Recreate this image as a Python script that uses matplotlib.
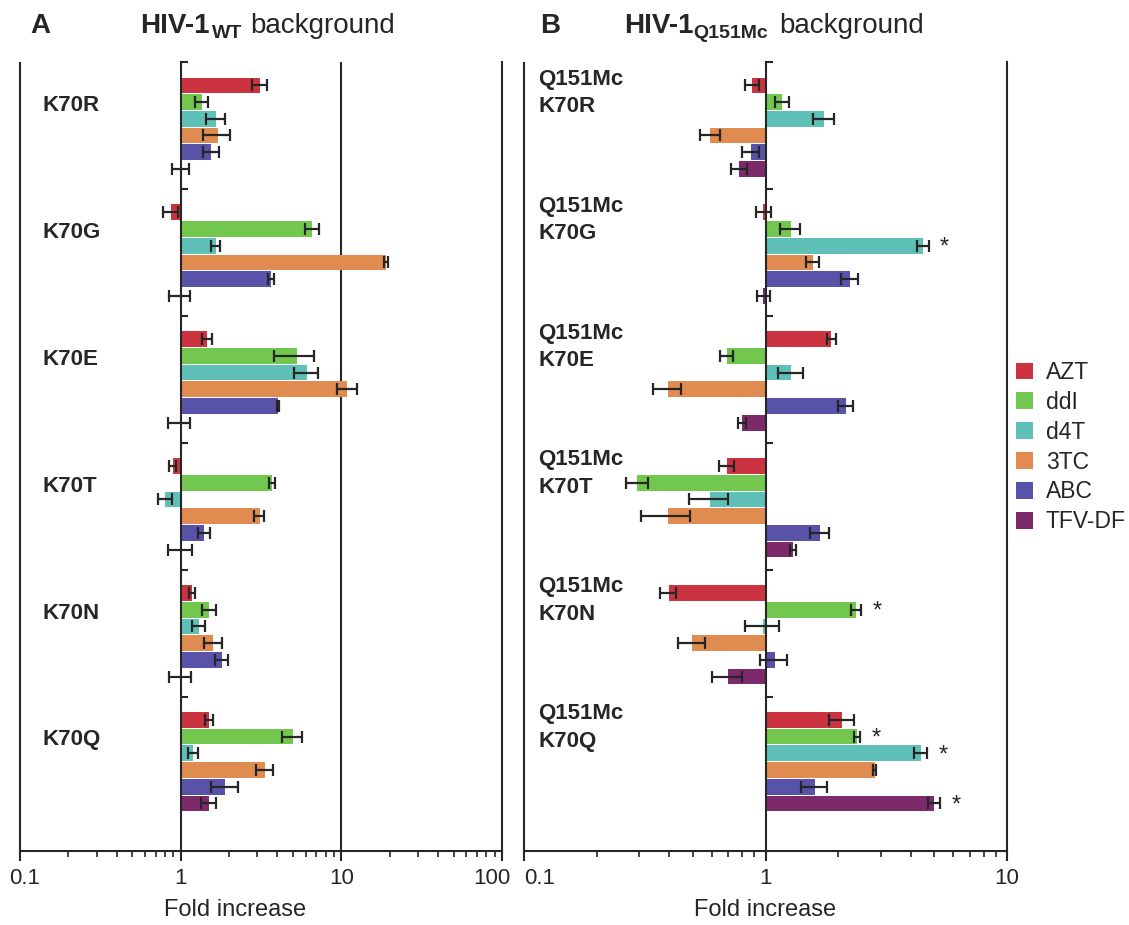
import numpy as np
import matplotlib
matplotlib.use("Agg")
import matplotlib.pyplot as plt
from matplotlib.patches import Patch
from matplotlib.ticker import FixedLocator, NullFormatter

plt.rcParams['font.family'] = ['Liberation Sans', 'DejaVu Sans']

# ---------------- data ----------------
drugs = ["AZT", "ddI", "d4T", "3TC", "ABC", "TFV-DF"]
drug_colors = ["#CC3340", "#72C84E", "#5EC0B6", "#E08C50", "#5852A8", "#7C2A6C"]

labels_a = ["K70R", "K70G", "K70E", "K70T", "K70N", "K70Q"]
labels_b = ["Q151Mc\nK70R", "Q151Mc\nK70G", "Q151Mc\nK70E",
            "Q151Mc\nK70T", "Q151Mc\nK70N", "Q151Mc\nK70Q"]

ticks_a = [0.1, 1, 10, 100]
ticklabels_a = ["0.1", "1", "10", "100"]
ticks_b = [0.1, 1, 10]
ticklabels_b = ["0.1", "1", "10"]

# Panel A: HIV-1 WT background (fold increase, order = drugs)
a_K70R = [3.10, 1.35, 1.66, 1.71, 1.55, 1.00]
a_K70G = [0.87, 6.60, 1.65, 19.0, 3.65, 0.99]
a_K70E = [1.46, 5.30, 6.10, 10.9, 4.05, 0.99]
a_K70T = [0.89, 3.70, 0.80, 3.10, 1.40, 1.00]
a_K70N = [1.18, 1.50, 1.30, 1.60, 1.80, 1.00]
a_K70Q = [1.50, 5.00, 1.20, 3.35, 1.90, 1.50]

a_K70R_err = [0.33, 0.12, 0.22, 0.33, 0.17, 0.12]
a_K70G_err = [0.09, 0.65, 0.10, 0.60, 0.15, 0.15]
a_K70E_err = [0.10, 1.50, 1.05, 1.55, 0.07, 0.16]
a_K70T_err = [0.04, 0.15, 0.08, 0.22, 0.12, 0.17]
a_K70N_err = [0.05, 0.15, 0.12, 0.20, 0.17, 0.16]
a_K70Q_err = [0.08, 0.70, 0.09, 0.42, 0.36, 0.17]

# Panel B: HIV-1 Q151Mc background
b_K70R = [0.88, 1.17, 1.75, 0.59, 0.87, 0.78]
b_K70G = [0.98, 1.27, 4.50, 1.57, 2.24, 0.98]
b_K70E = [1.87, 0.69, 1.28, 0.395, 2.15, 0.80]
b_K70T = [0.69, 0.295, 0.59, 0.395, 1.68, 1.30]
b_K70N = [0.397, 2.38, 0.98, 0.497, 1.09, 0.70]
b_K70Q = [2.08, 2.40, 4.40, 2.83, 1.60, 5.00]

b_K70R_err = [0.06, 0.08, 0.18, 0.055, 0.07, 0.06]
b_K70G_err = [0.07, 0.12, 0.25, 0.10, 0.18, 0.06]
b_K70E_err = [0.08, 0.045, 0.15, 0.053, 0.16, 0.03]
b_K70T_err = [0.05, 0.03, 0.11, 0.09, 0.15, 0.04]
b_K70N_err = [0.03, 0.11, 0.16, 0.063, 0.14, 0.10]
b_K70Q_err = [0.25, 0.07, 0.28, 0.03, 0.20, 0.30]

# significance stars in panel B: (group index, drug index)
b_stars = [(1, 2), (4, 1), (5, 1), (5, 2), (5, 5)]

values_a = [a_K70R, a_K70G, a_K70E, a_K70T, a_K70N, a_K70Q]
errors_a = [a_K70R_err, a_K70G_err, a_K70E_err, a_K70T_err, a_K70N_err, a_K70Q_err]
values_b = [b_K70R, b_K70G, b_K70E, b_K70T, b_K70N, b_K70Q]
errors_b = [b_K70R_err, b_K70G_err, b_K70E_err, b_K70T_err, b_K70N_err, b_K70Q_err]

# ---------------- layout ----------------
W, H = 1129, 925
fig = plt.figure(figsize=(W / 100, H / 100), dpi=100)
INK = "#262626"
LW = 1.5
GROUP = 7.6
YMAX = 47.25


def panel(rect, values, errors, labels, ticks, ticklabels, label_x, two_line,
          label_shift, stars=(), ref10=False, xlabel_x=0.5):
    ax = fig.add_axes(rect)
    ax.set_xscale('log')
    ax.set_xlim(ticks[0], ticks[-1])
    ax.set_ylim(YMAX, 0)
    for g, (vals, errs) in enumerate(zip(values, errors)):
        for d, (v, e) in enumerate(zip(vals, errs)):
            y = g * GROUP + 1.4 + d
            ax.barh(y, v - 1.0, left=1.0, height=0.94, color=drug_colors[d],
                    linewidth=0, zorder=2)
            ax.errorbar(v, y, xerr=e, fmt='none', ecolor=INK, elinewidth=1.6,
                        capsize=4.3, capthick=1.6, zorder=3)
        if two_line:
            ax.text(label_x, g * GROUP + 1.85, labels[g], transform=ax.get_yaxis_transform(),
                    fontsize=16, fontweight='bold', color=INK, va='center', ha='left',
                    linespacing=1.4)
        else:
            ax.text(label_x, g * GROUP + 2.6, labels[g], transform=ax.get_yaxis_transform(),
                    fontsize=16, fontweight='bold', color=INK, va='center', ha='left')
    for (g, d) in stars:
        v = values[g][d] + errors[g][d]
        y = g * GROUP + 1.4 + d
        ax.annotate("*", xy=(v, y), xytext=(8, -1.5), textcoords='offset points',
                    fontsize=17, color=INK, va='center', ha='left')

    # spines
    ax.spines['top'].set_visible(False)
    ax.spines['left'].set_position(('data', 1.0))
    for s in ('left', 'right', 'bottom'):
        ax.spines[s].set_linewidth(LW)
        ax.spines[s].set_color(INK)
    ax.plot([0, 0], [0, 1], transform=ax.transAxes, color=INK, lw=LW,
            clip_on=False, solid_capstyle='butt', zorder=4)
    if ref10:
        ax.axvline(10, color=INK, lw=LW, zorder=1)

    # y ticks at group boundaries on the x=1 line
    ax.set_yticks([g * GROUP for g in range(6)])
    ax.set_yticklabels([])
    ax.tick_params(axis='y', direction='in', length=5, width=LW, color=INK)

    # x ticks: labels drawn as annotations so edge labels can be nudged
    ax.xaxis.set_major_locator(FixedLocator(ticks))
    ax.xaxis.set_major_formatter(NullFormatter())
    minors = [m * t for t in ticks[:-1] for m in range(2, 10)]
    ax.xaxis.set_minor_locator(FixedLocator(minors))
    ax.xaxis.set_minor_formatter(NullFormatter())
    ax.tick_params(axis='x', which='major', direction='out', length=7, width=LW,
                   color=INK)
    ax.tick_params(axis='x', which='minor', direction='out', length=4, width=1.2,
                   color=INK)
    for t, lab, dx in zip(ticks, ticklabels, label_shift):
        ax.annotate(lab, xy=(t, 0), xycoords=ax.get_xaxis_transform(),
                    xytext=(dx, -20), textcoords='offset points', fontsize=16,
                    color=INK, ha='center', va='center', annotation_clip=False)
    ax.text(xlabel_x, -0.075, "Fold increase", transform=ax.transAxes, fontsize=17,
            color=INK, ha='center', va='center')
    return ax


bottom = 1 - 851 / H
height = (851 - 62) / H
axA = panel([20 / W, bottom, 482 / W, height], values_a, errors_a, labels_a,
            ticks_a, ticklabels_a, 0.046, False, [3.5, 0, 0, -7],
            ref10=True, xlabel_x=0.446)
axB = panel([524 / W, bottom, 483 / W, height], values_b, errors_b, labels_b,
            ticks_b, ticklabels_b, 0.029, True, [11, 0, 0], stars=b_stars)

# ---------------- titles ----------------
def fx(px):
    return px / W


def fy(py):
    return 1 - py / H


fig.text(fx(30), fy(33), "A", fontsize=20, fontweight='bold', color=INK, va='baseline')
fig.text(fx(140), fy(33), "HIV-1", fontsize=20, fontweight='bold', color=INK, va='baseline')
fig.text(fx(212), fy(38), "WT", fontsize=14, fontweight='bold', color=INK, va='baseline')
fig.text(fx(250), fy(33), "background", fontsize=20, color=INK, va='baseline')

fig.text(fx(540), fy(33), "B", fontsize=20, fontweight='bold', color=INK, va='baseline')
fig.text(fx(624), fy(33), "HIV-1", fontsize=20, fontweight='bold', color=INK, va='baseline')
fig.text(fx(693), fy(38), "Q151Mc", fontsize=14, fontweight='bold', color=INK, va='baseline')
fig.text(fx(779), fy(33), "background", fontsize=20, color=INK, va='baseline')

# ---------------- legend ----------------
handles = [Patch(facecolor=c, edgecolor='none') for c in drug_colors]
fig.legend(handles, drugs, loc='upper left', bbox_to_anchor=(fx(1016), fy(361)),
           frameon=False, fontsize=16.5, handlelength=0.75, handleheight=0.75,
           handletextpad=0.55, labelspacing=0.3, borderpad=0, borderaxespad=0,
           labelcolor=INK)

fig.savefig("out.png", dpi=100)
